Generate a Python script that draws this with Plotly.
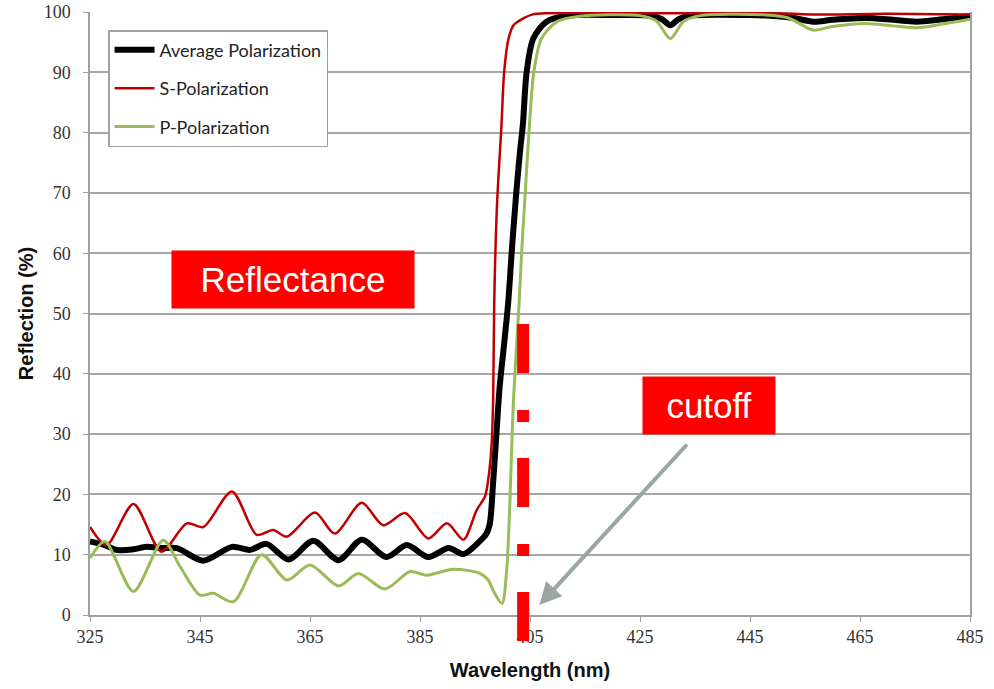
import plotly.graph_objects as go

# ---------------- data ----------------
wl_avg = [325, 327.7, 329.8, 332.9, 335.3, 338, 340.8, 345.6, 350.8, 354.1, 357.1, 361.1,
          365.6, 370.2, 374.4, 378.9, 382.6, 386.5, 390.2, 392.9, 395.6, 397.1, 397.7,
          398.3, 398.9, 399.5, 400.3, 401.05, 401.7, 402.5, 403.2, 403.7, 404.4, 405.6,
          408, 411.7, 420, 427, 429, 430.5, 432, 434, 445, 450, 453, 456.5, 460, 466,
          471, 475.3, 480, 485]
avg = [12.2, 11.6, 10.8, 10.9, 11.3, 11.1, 11.1, 9.0, 11.3, 10.8, 11.8, 9.2,
       12.3, 9.1, 12.5, 9.6, 11.6, 9.6, 11.1, 10.1, 12.0, 13.5, 15.2,
       22.0, 30.1, 38.0, 45.0, 52.0, 60.5, 70.0, 77.0, 81.3, 90.1, 95.6,
       98.4, 99.4, 99.5, 99.4, 98.8, 97.8, 98.8, 99.4, 99.5, 99.3, 99.0, 98.4, 98.7, 99.0,
       98.7, 98.4, 98.8, 99.3]

wl_s = [325, 328, 332.9, 338, 342.6, 345.6, 350.8, 355.3, 358.3, 360.8, 365.9, 369.5,
        374.4, 378.3, 382.3, 386.5, 389.9, 392.9, 395.3, 396.8, 397.4, 398.0, 398.3,
        398.5, 399.0, 399.8, 400.3, 401.1, 402.0, 403.7, 405.5, 408, 420, 435, 450,
        456, 470, 485]
s_pol = [14.6, 11.6, 18.4, 10.5, 15.2, 14.6, 20.5, 13.3, 14.1, 13.0, 17.0, 13.5,
         18.6, 14.9, 16.9, 12.7, 15.2, 12.5, 17.4, 19.6, 22.4, 28.0, 35.7,
         52.0, 68.0, 81.0, 90.0, 95.6, 97.8, 98.9, 99.6, 99.8, 99.8, 99.8, 99.8,
         99.6, 99.7, 99.6]

wl_p = [325, 327.7, 332.9, 338.3, 341.4, 345, 347.4, 351.1, 356.2, 360.8, 365, 370.2,
        373.8, 378.6, 383.2, 386.2, 391.1, 395.9, 397.4, 398.3, 399.9, 400.8, 402.0,
        403.05, 403.5, 404.2, 404.9, 405.7, 407.1, 409.9, 414, 425, 428, 430.5, 433,
        436, 448, 452, 456.5, 460, 466, 471, 475.3, 480, 485]
p_pol = [9.4, 12.2, 3.9, 12.4, 8.0, 3.3, 3.6, 2.2, 10.0, 5.8, 8.3, 4.8,
         6.9, 4.3, 7.2, 6.6, 7.6, 6.9, 5.8, 4.1, 1.9, 8.0, 35.7,
         52.2, 60.5, 71.0, 81.3, 90.1, 95.6, 98.4, 99.3, 99.4, 98.5, 95.6, 98.5,
         99.4, 99.5, 99.0, 97.0, 97.6, 98.1, 97.7, 97.4, 98.0, 98.8]

cutoff_wl = [403.75]
x_ticks = [325, 345, 365, 385, 405, 425, 445, 465, 485]
y_ticks = [0, 10, 20, 30, 40, 50, 60, 70, 80, 90, 100]
series_names = ["Average Polarization", "S-Polarization", "P-Polarization"]
box_labels = ["Reflectance", "cutoff"]

# ---------------- figure ----------------
fig = go.Figure()
fig.add_trace(go.Scatter(x=wl_avg, y=avg, mode="lines", name=series_names[0],
                         legendgroup="a",
                         line=dict(color="#000000", width=6, shape="spline", smoothing=0.8)))
fig.add_trace(go.Scatter(x=wl_s, y=s_pol, mode="lines", name=series_names[1],
                         legendgroup="b",
                         line=dict(color="#c00000", width=2.5, shape="spline", smoothing=0.8)))
fig.add_trace(go.Scatter(x=wl_p, y=p_pol, mode="lines", name=series_names[2],
                         legendgroup="c",
                         line=dict(color="#9bbb59", width=3, shape="spline", smoothing=0.8)))

# cutoff dashed line
fig.add_shape(type="line", xref="x", yref="paper",
              x0=cutoff_wl[0], x1=cutoff_wl[0], y0=0.4826, y1=-0.0448,
              line=dict(color="#ff0000", width=12, dash="49px,37px,12px,36px"),
              layer="above")

# text boxes
fig.add_annotation(xref="paper", yref="paper", x=0.2312, y=0.5556,
                   text=box_labels[0], showarrow=False,
                   font=dict(family="Liberation Sans, Arial", size=35, color="white"),
                   bgcolor="#ff0000", width=242, height=57, borderpad=0,
                   xanchor="center", yanchor="middle")
fig.add_annotation(xref="paper", yref="paper", x=(709 - 90) / 880, y=(615 - 405) / 603,
                   text=box_labels[1], showarrow=False,
                   font=dict(family="Liberation Sans, Arial", size=35, color="white"),
                   bgcolor="#ff0000", width=132, height=57, borderpad=0,
                   xanchor="center", yanchor="middle")
# arrow
fig.add_annotation(xref="x", yref="y", x=406.7, y=1.66, ax=149, ay=-162,
                   text="", showarrow=True, arrowhead=2, arrowsize=1.1,
                   arrowwidth=4, arrowcolor="#9aa6a0", standoff=0)

fig.update_layout(
    width=994, height=689,
    margin=dict(l=90, r=24, t=12, b=74),
    paper_bgcolor="white", plot_bgcolor="white",
    showlegend=True,
    legend=dict(x=0.0205, y=0.970, xanchor="left", yanchor="top",
                bgcolor="white", bordercolor="#a0a0a0", borderwidth=1.5,
                font=dict(family="Lato, Calibri, sans-serif", size=18, color="#222222"),
                tracegroupgap=12, traceorder="grouped", itemwidth=40),
    xaxis=dict(range=[325, 485], tickvals=x_ticks, ticktext=[str(v) for v in x_ticks],
               automargin=False,
               showgrid=False, zeroline=False, showline=True, linecolor="#a0a0a0",
               linewidth=1.5, ticks="outside", ticklen=5, tickcolor="#a0a0a0",
               tickfont=dict(family="Liberation Serif, Times New Roman", size=18, color="#333333"),
               title=dict(text="<b>Wavelength (nm)</b>", standoff=17,
                          font=dict(family="Liberation Sans, Arial", size=20, color="#111111"))),
    yaxis=dict(range=[0, 100], tickvals=y_ticks, showgrid=True, gridcolor="#a6a6a6",
               automargin=False,
               gridwidth=1.5, zeroline=False, showline=True, mirror=True,
               linecolor="#a0a0a0", linewidth=1.5, ticks="outside", ticklen=5,
               tickcolor="#a0a0a0", ticklabelstandoff=9,
               tickfont=dict(family="Liberation Serif, Times New Roman", size=18, color="#333333"),
               title=dict(text="<b>Reflection (%)</b>", standoff=5,
                          font=dict(family="Liberation Sans, Arial", size=20, color="#111111"))),
)

fig.write_html("out.html")
